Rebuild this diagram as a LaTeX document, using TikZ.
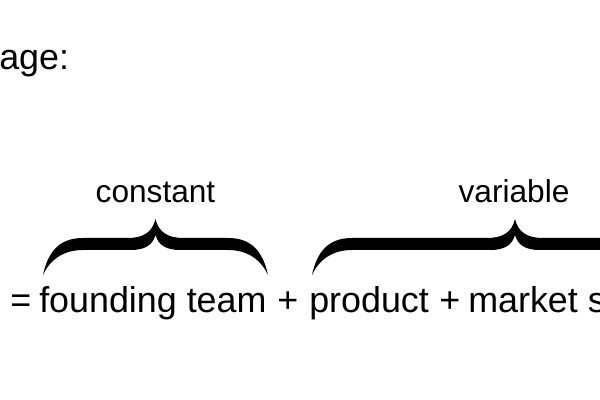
\documentclass[tikz,border=0pt]{standalone}
\usepackage{fontspec}
\setmainfont{Liberation Sans}
\usetikzlibrary{calc}
\tikzset{
  txt/.style={font=\fontsize{25.5}{30}\selectfont,inner sep=0,anchor=base west},
  lab/.style={font=\fontsize{22.5}{26}\selectfont,inner sep=0,anchor=base},
}
% a heavy curly brace, filled so that it tapers: left end x, tip x, right end x
\newcommand\curlyfill[3]{%
  \fill (#1,125) .. controls (#1+5,148) and (#1+16,162) .. (#1+40,162)
    -- (#2-28,162) .. controls (#2-12,162) and (#2-3,168) .. (#2,181)
    .. controls (#2+3,168) and (#2+12,162) .. (#2+28,162)
    -- (#3-40,162) .. controls (#3-16,162) and (#3-5,148) .. (#3,125)
    .. controls (#3-7,140) and (#3-20,150) .. (#3-40,150)
    -- (#2+25,150) .. controls (#2+10,150) and (#2+3,155) .. (#2,165)
    .. controls (#2-3,155) and (#2-10,150) .. (#2-25,150)
    -- (#1+40,150) .. controls (#1+20,150) and (#1+7,140) .. (#1,125) -- cycle;}

\begin{document}
\begin{tikzpicture}[x=0.025cm,y=0.025cm]
  \useasboundingbox (0,0) rectangle (600,400);
  \node[txt] (head) at (-1,330) {age:};
  % the equation line
  \node[txt] (eq)    at (10,87)  {=};
  \node[txt] (team)  at (39,87)  {founding team};
  \node[txt] (plusa) at (277,87) {+};
  \node[txt] (prod)  at (309,87) {product};
  \node[txt] (plusb) at (439,87) {+};
  \node[txt] (mkt)   at (468,87) {market s};
  % braces, the second one runs on past the right edge
  \curlyfill{43}{155.5}{268}
  \curlyfill{312}{515}{718}
  \node[lab] (const) at (155.5,197) {constant};
  \node[lab] (var)   at (514,197)   {variable};
\end{tikzpicture}
\end{document}
